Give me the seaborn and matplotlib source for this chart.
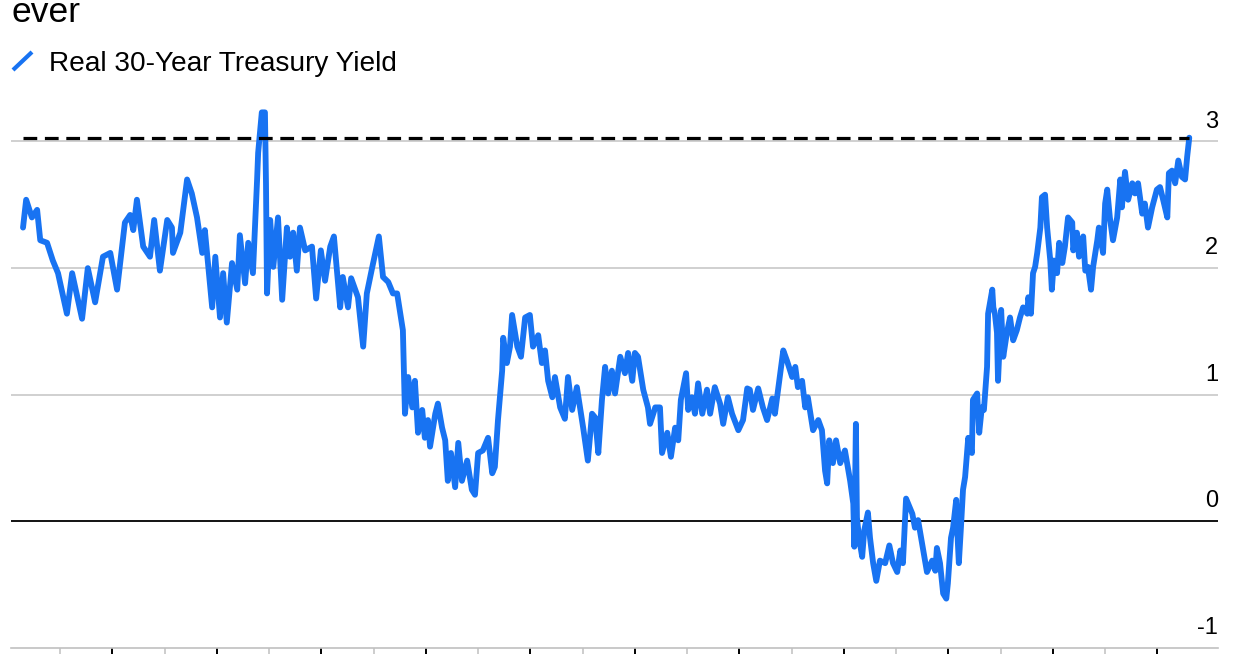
import pandas as pd
import seaborn as sns
import matplotlib.pyplot as plt
from matplotlib.lines import Line2D

# Real 30-year yield (decimal years, percent)
years = [
    2004.29, 2004.35, 2004.46, 2004.56, 2004.62, 2004.75, 2004.86, 2004.96, 2005.13, 2005.23,
    2005.42, 2005.53, 2005.67, 2005.82, 2005.96, 2006.09, 2006.24, 2006.34, 2006.40, 2006.47,
    2006.59, 2006.72, 2006.80, 2006.91, 2007.05, 2007.14, 2007.16, 2007.30, 2007.43, 2007.52,
    2007.62, 2007.72, 2007.77, 2007.91, 2007.97, 2008.06, 2008.12, 2008.19, 2008.29, 2008.39,
    2008.44, 2008.54, 2008.60, 2008.69, 2008.77, 2008.79, 2008.86, 2008.92, 2008.94, 2008.96,
    2009.02, 2009.08, 2009.17, 2009.25, 2009.34, 2009.40, 2009.46, 2009.53, 2009.59, 2009.69,
    2009.82, 2009.90, 2009.99, 2010.07, 2010.17, 2010.24, 2010.36, 2010.41, 2010.51, 2010.57,
    2010.70, 2010.80, 2010.87, 2010.97, 2011.10, 2011.18, 2011.28, 2011.37, 2011.45, 2011.51,
    2011.56, 2011.60, 2011.66, 2011.74, 2011.79, 2011.85, 2011.93, 2011.98, 2012.04, 2012.08,
    2012.18, 2012.23, 2012.31, 2012.37, 2012.42, 2012.48, 2012.56, 2012.62, 2012.69, 2012.79,
    2012.88, 2012.94, 2013.00, 2013.09, 2013.19, 2013.27, 2013.32, 2013.38, 2013.46, 2013.48,
    2013.55, 2013.61, 2013.65, 2013.75, 2013.82, 2013.90, 2013.99, 2014.05, 2014.15, 2014.22,
    2014.28, 2014.34, 2014.42, 2014.47, 2014.57, 2014.66, 2014.72, 2014.80, 2014.89, 2014.95,
    2015.01, 2015.10, 2015.18, 2015.24, 2015.30, 2015.37, 2015.43, 2015.49, 2015.56, 2015.62,
    2015.72, 2015.81, 2015.87, 2015.95, 2016.00, 2016.06, 2016.16, 2016.25, 2016.29, 2016.39,
    2016.48, 2016.52, 2016.62, 2016.69, 2016.77, 2016.83, 2016.88, 2016.98, 2017.02, 2017.09,
    2017.15, 2017.21, 2017.29, 2017.38, 2017.44, 2017.53, 2017.63, 2017.69, 2017.78, 2017.86,
    2017.98, 2018.07, 2018.15, 2018.20, 2018.26, 2018.36, 2018.45, 2018.53, 2018.63, 2018.68,
    2018.74, 2018.84, 2018.91, 2019.01, 2019.07, 2019.12, 2019.20, 2019.26, 2019.31, 2019.41,
    2019.51, 2019.58, 2019.64, 2019.68, 2019.72, 2019.79, 2019.85, 2019.93, 2020.02, 2020.12,
    2020.18, 2020.20, 2020.23, 2020.25, 2020.29, 2020.35, 2020.39, 2020.46, 2020.50, 2020.56,
    2020.62, 2020.69, 2020.79, 2020.87, 2020.94, 2021.02, 2021.08, 2021.13, 2021.19, 2021.23,
    2021.31, 2021.36, 2021.42, 2021.52, 2021.59, 2021.69, 2021.75, 2021.78, 2021.84, 2021.90,
    2021.96, 2021.99, 2022.05, 2022.09, 2022.15, 2022.17, 2022.20, 2022.24, 2022.28, 2022.32,
    2022.38, 2022.45, 2022.47, 2022.55, 2022.59, 2022.64, 2022.68, 2022.74, 2022.76, 2022.84,
    2022.86, 2022.89, 2022.93, 2022.95, 2023.01, 2023.05, 2023.12, 2023.18, 2023.24, 2023.31,
    2023.37, 2023.43, 2023.51, 2023.53, 2023.58, 2023.62, 2023.66, 2023.70, 2023.76, 2023.79,
    2023.85, 2023.89, 2023.95, 2023.98, 2024.02, 2024.08, 2024.12, 2024.18, 2024.23, 2024.29,
    2024.37, 2024.39, 2024.46, 2024.50, 2024.58, 2024.62, 2024.67, 2024.73, 2024.77, 2024.85,
    2024.88, 2024.96, 2025.00, 2025.04, 2025.09, 2025.15, 2025.23, 2025.29, 2025.32, 2025.38,
    2025.44, 2025.52, 2025.57, 2025.63, 2025.71, 2025.76, 2025.82, 2025.90, 2025.99, 2026.05,
    2026.11, 2026.19, 2026.22, 2026.28, 2026.34, 2026.40, 2026.47, 2026.53, 2026.57, 2026.61,
]
real_yield = [
    2.32, 2.54, 2.40, 2.46, 2.22, 2.20, 2.06, 1.96, 1.64, 1.96,
    1.60, 2.00, 1.73, 2.09, 2.12, 1.83, 2.36, 2.42, 2.30, 2.54,
    2.17, 2.09, 2.38, 1.98, 2.38, 2.32, 2.12, 2.28, 2.70, 2.59,
    2.40, 2.12, 2.30, 1.69, 2.09, 1.61, 1.96, 1.57, 2.04, 1.83,
    2.26, 1.88, 2.20, 1.96, 2.70, 2.91, 3.23, 3.23, 2.67, 1.80,
    2.38, 2.01, 2.40, 1.75, 2.32, 2.09, 2.28, 1.98, 2.32, 2.14,
    2.17, 1.76, 2.14, 1.90, 2.17, 2.25, 1.69, 1.93, 1.69, 1.92,
    1.77, 1.38, 1.80, 2.00, 2.25, 1.93, 1.89, 1.80, 1.80, 1.64,
    1.51, 0.85, 1.14, 0.90, 1.11, 0.70, 0.88, 0.66, 0.80, 0.59,
    0.85, 0.93, 0.74, 0.64, 0.32, 0.54, 0.27, 0.62, 0.32, 0.48,
    0.25, 0.21, 0.54, 0.56, 0.66, 0.38, 0.43, 0.80, 1.19, 1.45,
    1.25, 1.38, 1.63, 1.38, 1.30, 1.61, 1.63, 1.38, 1.47, 1.25,
    1.35, 1.11, 0.98, 1.14, 0.90, 0.81, 1.14, 0.88, 1.06, 0.90,
    0.74, 0.48, 0.85, 0.82, 0.54, 0.96, 1.22, 1.01, 1.19, 1.01,
    1.30, 1.17, 1.33, 1.11, 1.33, 1.30, 1.04, 0.90, 0.77, 0.90,
    0.90, 0.54, 0.70, 0.51, 0.74, 0.64, 0.96, 1.17, 0.88, 0.98,
    0.85, 1.09, 0.85, 1.04, 0.85, 1.06, 0.93, 0.77, 0.98, 0.85,
    0.72, 0.80, 1.05, 1.04, 0.88, 1.05, 0.90, 0.80, 0.97, 0.85,
    1.04, 1.35, 1.27, 1.14, 1.22, 1.06, 1.11, 0.90, 0.98, 0.72,
    0.80, 0.72, 0.40, 0.30, 0.64, 0.46, 0.64, 0.46, 0.56, 0.32,
    0.14, -0.20, 0.77, 0.03, -0.13, -0.28, -0.07, 0.07, -0.13, -0.33,
    -0.47, -0.31, -0.33, -0.19, -0.33, -0.40, -0.23, -0.33, 0.18, 0.14,
    0.06, -0.05, 0.01, -0.23, -0.40, -0.31, -0.39, -0.21, -0.33, -0.57,
    -0.61, -0.49, -0.13, -0.05, 0.17, -0.07, -0.33, -0.05, 0.25, 0.35,
    0.66, 0.54, 0.96, 1.01, 0.70, 0.90, 0.88, 1.22, 1.64, 1.83,
    1.69, 1.64, 1.49, 1.11, 1.67, 1.30, 1.49, 1.61, 1.43, 1.51,
    1.61, 1.69, 1.64, 1.77, 1.64, 1.96, 2.01, 2.12, 2.32, 2.56,
    2.58, 2.32, 2.06, 1.83, 2.06, 1.96, 2.20, 2.04, 2.17, 2.40,
    2.36, 2.14, 2.28, 2.09, 2.25, 1.98, 2.01, 1.83, 2.01, 2.22,
    2.32, 2.12, 2.51, 2.62, 2.40, 2.22, 2.40, 2.70, 2.48, 2.76,
    2.54, 2.67, 2.59, 2.67, 2.43, 2.51, 2.32, 2.48, 2.62, 2.64,
    2.54, 2.40, 2.75, 2.77, 2.67, 2.85, 2.72, 2.70, 2.88, 3.03,
]
grid_values = [3, 2, 1, 0, -1]
tick_years = list(range(2005, 2027))

BLUE = '#1873f2'

sns.set_theme(style='white')
plt.rcParams['font.family'] = ['Liberation Sans', 'DejaVu Sans']

W, H = 1250, 654
fig = plt.figure(figsize=(W / 100, H / 100), dpi=100)
ax = fig.add_axes([11 / W, 6 / H, (1218 - 11) / W, (648 - 103.5) / H])

df = pd.DataFrame({'year': years, 'yield': real_yield})
sns.lineplot(data=df, x='year', y='yield', ax=ax, color=BLUE, lw=4.2, zorder=3)

ax.set_xlim(2004.06, 2027.16)
ax.set_ylim(-1, 3.3)

# gridlines and zero line
for v in grid_values[:3]:
    ax.axhline(v, color='#c8c8c8', lw=1.2, zorder=1)
ax.axhline(0, color='black', lw=1.3, zorder=2)

# dashed line at the latest level
ax.hlines(real_yield[-1], years[0], years[-1], colors='black',
          linestyles=(0, (4.3, 2.4)), lw=2.3, zorder=4)

for side in ['top', 'left', 'right']:
    ax.spines[side].set_visible(False)
ax.spines['bottom'].set_color('#c0c0c0')
ax.spines['bottom'].set_linewidth(1.2)

# yearly ticks, even years dark
ax.set_xticks([y for y in tick_years if y % 2 == 0])
ax.set_xticks([y for y in tick_years if y % 2 == 1], minor=True)
ax.tick_params(axis='x', which='major', direction='out', length=12, width=1.4,
               color='black', bottom=True, labelbottom=False)
ax.tick_params(axis='x', which='minor', direction='out', length=12, width=1.1,
               color='#c0c0c0', bottom=True)
ax.set_yticks([])
ax.set_xlabel('')
ax.set_ylabel('')

# right-hand value labels sitting on the gridlines
for v in grid_values:
    ax.annotate(str(v), xy=(1, v), xycoords=('axes fraction', 'data'),
                xytext=(0, 10), textcoords='offset points',
                ha='right', va='baseline', fontsize=17, color='black',
                annotation_clip=False)

# title tail and legend
fig.text(12 / W, 1 - 22 / H, 'ever', fontsize=25.5, va='baseline', color='black')
fig.add_artist(Line2D([13 / W, 32 / W], [1 - 70 / H, 1 - 52 / H],
                      transform=fig.transFigure, color=BLUE, lw=3.0,
                      solid_capstyle='butt'))
fig.text(49 / W, 1 - 71 / H, 'Real 30-Year Treasury Yield', fontsize=20.2,
         va='baseline', color='black')

fig.savefig('out.png', dpi=100)
